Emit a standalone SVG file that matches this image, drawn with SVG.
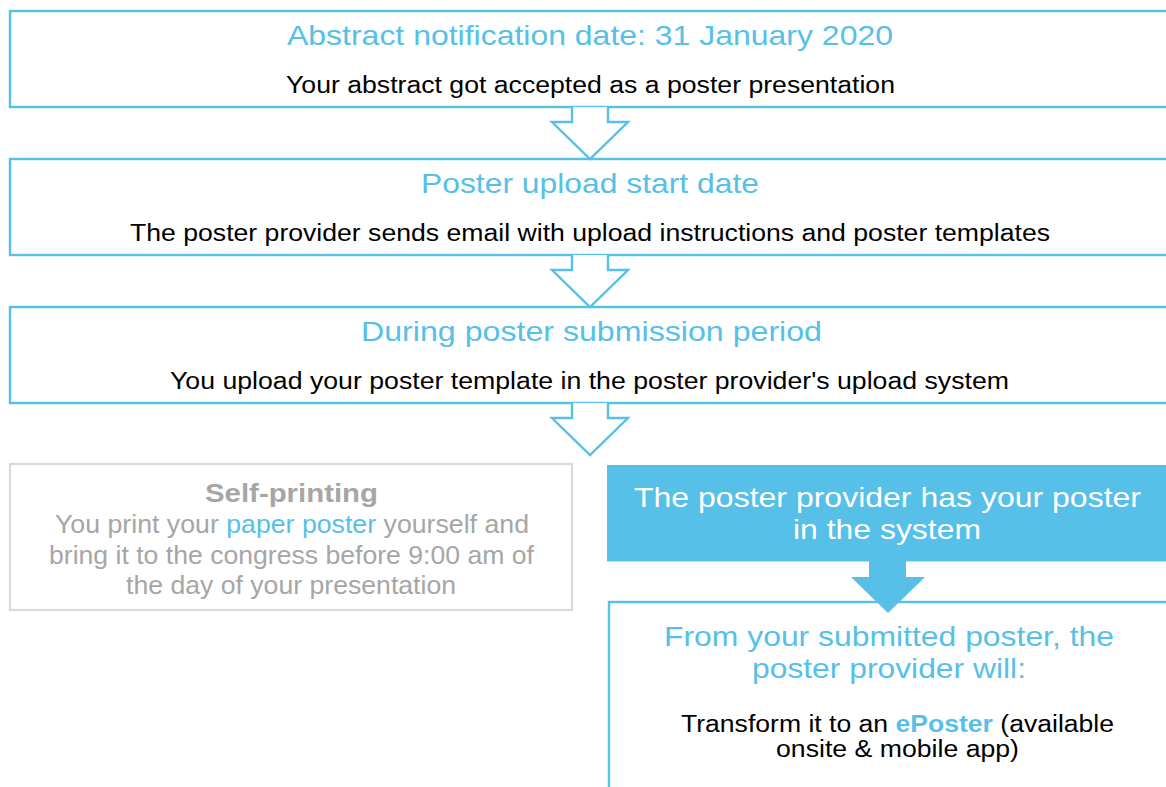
<svg xmlns="http://www.w3.org/2000/svg" width="1166" height="787" viewBox="0 0 1166 787">
<style>
.box{fill:#fff;stroke:#56C0E8;stroke-width:2.4}
.gbox{fill:#fff;stroke:#D9D9D9;stroke-width:2.2}
.fbox{fill:#56C0E8}
.arr{fill:#fff;stroke:#56C0E8;stroke-width:2.4;stroke-linejoin:miter}
.farr{fill:#56C0E8}
text{font-family:"Liberation Sans",Arial,sans-serif;text-anchor:middle}
.h{fill:#56C0E8;font-size:28px}
.b{fill:#000;font-size:23.5px}
.g{fill:#A6A6A6;font-size:25.5px}
.gb{fill:#A6A6A6;font-size:26px;font-weight:bold}
.w{fill:#fff;font-size:28px}
.blue{fill:#56C0E8}
.bold{font-weight:bold}
</style>
<rect width="1166" height="787" fill="#fff"/>
<g id="node1">
<rect class="box" x="10" y="11" width="1170" height="96"/>
<text class="h" x="590" y="45" textLength="606" lengthAdjust="spacingAndGlyphs">Abstract notification date: 31 January 2020</text>
<text class="b" x="590.5" y="93" textLength="609" lengthAdjust="spacingAndGlyphs">Your abstract got accepted as a poster presentation</text>
</g>
<g id="node2">
<rect class="box" x="10" y="159" width="1170" height="96"/>
<text class="h" x="590" y="193" textLength="338" lengthAdjust="spacingAndGlyphs">Poster upload start date</text>
<text class="b" x="590" y="241" textLength="920" lengthAdjust="spacingAndGlyphs">The poster provider sends email with upload instructions and poster templates</text>
</g>
<g id="node3">
<rect class="box" x="10" y="307" width="1170" height="96"/>
<text class="h" x="591.5" y="341" textLength="461" lengthAdjust="spacingAndGlyphs">During poster submission period</text>
<text class="b" x="589.5" y="389" textLength="839" lengthAdjust="spacingAndGlyphs">You upload your poster template in the poster provider's upload system</text>
</g>
<g id="node4">
<rect class="gbox" x="10" y="464" width="562" height="146"/>
<text class="gb" x="291.5" y="501.5" textLength="173" lengthAdjust="spacingAndGlyphs">Self-printing</text>
<text class="g" x="292" y="533" textLength="474" lengthAdjust="spacingAndGlyphs">You print your <tspan class="blue">paper poster</tspan> yourself and</text>
<text class="g" x="291.5" y="563.5" textLength="485" lengthAdjust="spacingAndGlyphs">bring it to the congress before 9:00 am of</text>
<text class="g" x="291" y="594" textLength="330" lengthAdjust="spacingAndGlyphs">the day of your presentation</text>
</g>
<g id="node5">
<rect class="fbox" x="607" y="465" width="570" height="96.5"/>
<text class="w" x="887.5" y="506.5" textLength="507" lengthAdjust="spacingAndGlyphs">The poster provider has your poster</text>
<text class="w" x="887" y="538.5" textLength="188" lengthAdjust="spacingAndGlyphs">in the system</text>
</g>
<g id="node6">
<rect class="box" x="609" y="602" width="580" height="200"/>
<text class="h" x="889" y="645.5" textLength="450" lengthAdjust="spacingAndGlyphs">From your submitted poster, the</text>
<text class="h" x="889" y="677.5" textLength="274" lengthAdjust="spacingAndGlyphs">poster provider will:</text>
<text class="b" x="897.5" y="731.5" textLength="433" lengthAdjust="spacingAndGlyphs">Transform it to an <tspan class="blue bold">ePoster</tspan> (available</text>
<text class="b" x="897.5" y="757" textLength="243" lengthAdjust="spacingAndGlyphs">onsite &amp; mobile app)</text>
</g>
<g id="connectors">
<path class="arr" d="M572 107V122H552L590 159L628 122H608V107"/>
<path class="arr" d="M572 255V270H552L590 307L628 270H608V255"/>
<path class="arr" d="M572 403V418H552L590 455L628 418H608V403"/>
<path class="farr" d="M869 561V577H851L888 613L925 577H906V561Z"/>
</g>
</svg>
